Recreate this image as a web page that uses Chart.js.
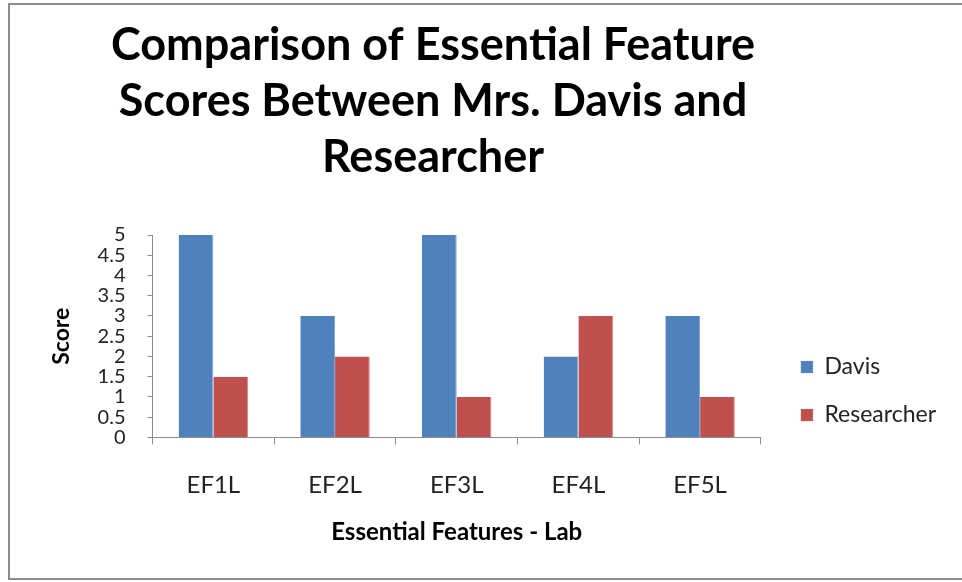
<!DOCTYPE html>
<html lang="en">
<head>
    <meta charset="UTF-8">
    <title>Essential Feature Scores</title>
    <script src="https://cdn.jsdelivr.net/npm/chart.js"></script>
    <style>
        body {
            margin: 0;
            padding: 0;
            background: #ffffff;
        }
        .wrap {
            position: relative;
            width: 962px;
            height: 582px;
            overflow: hidden;
        }
        .frame {
            position: absolute;
            left: 8px;
            top: 3px;
            width: 980px;
            height: 573px;
            border: 2px solid #8c8c8c;
            pointer-events: none;
        }
        canvas {
            position: absolute;
            left: 0;
            top: 0;
        }
    </style>
</head>
<body>
    <div class="wrap">
        <canvas id="myChart" width="962" height="582"></canvas>
        <div class="frame"></div>
    </div>

    <script>
        // data
        const categories = ['EF1L', 'EF2L', 'EF3L', 'EF4L', 'EF5L'];
        const davisScores = [5, 3, 5, 2, 3];
        const researcherScores = [1.5, 2, 1, 3, 1];
        const titleLines = ['Comparison of Essential Feature', 'Scores Between Mrs. Davis and', 'Researcher'];
        const xTitle = 'Essential Features - Lab';
        const yTitle = 'Score';

        const FONT = 'Lato, "Open Sans", sans-serif';

        // title is drawn by hand, it sits left of the canvas centre in the original
        const titlePlugin = {
            id: 'bigTitle',
            afterDraw(chart) {
                const c = chart.ctx;
                c.save();
                c.fillStyle = '#000';
                c.font = 'bold 45px ' + FONT;
                c.textAlign = 'center';
                c.textBaseline = 'middle';
                titleLines.forEach(function (line, i) {
                    c.fillText(line, 433, 45 + i * 56);
                });
                c.restore();
            }
        };

        const bgPlugin = {
            id: 'bg',
            beforeDraw(chart) {
                const c = chart.ctx;
                c.save();
                c.fillStyle = '#fff';
                c.fillRect(0, 0, chart.width, chart.height);
                c.restore();
            }
        };

        const ctx = document.getElementById('myChart').getContext('2d');
        let myChart = new Chart(ctx, {
            type: 'bar',
            data: {
                labels: categories,
                datasets: [{
                    label: 'Davis',
                    data: davisScores,
                    backgroundColor: '#4f81bd',
                    borderColor: '#7fa3d3',
                    borderWidth: { right: 1 },
                    categoryPercentage: 0.571,
                    barPercentage: 1
                }, {
                    label: 'Researcher',
                    data: researcherScores,
                    backgroundColor: '#c0504d',
                    borderColor: '#d98886',
                    borderWidth: { right: 1 },
                    categoryPercentage: 0.571,
                    barPercentage: 1
                }]
            },
            options: {
                responsive: false,
                animation: false,
                devicePixelRatio: 1,
                layout: {
                    padding: { left: 48, top: 235, right: 16, bottom: 35 }
                },
                plugins: {
                    title: { display: false },
                    tooltip: { enabled: false },
                    legend: {
                        position: 'right',
                        align: 'center',
                        maxWidth: 220,
                        labels: {
                            boxWidth: 12,
                            boxHeight: 12,
                            padding: 25,
                            color: '#222',
                            font: { family: FONT, size: 23 }
                        }
                    }
                },
                scales: {
                    x: {
                        grid: {
                            display: true,
                            offset: true,
                            drawOnChartArea: false,
                            drawTicks: true,
                            tickLength: 7,
                            color: '#8c8c8c'
                        },
                        border: { color: '#8c8c8c', width: 1 },
                        ticks: {
                            color: '#222',
                            padding: 26,
                            font: { family: FONT, size: 24 }
                        },
                        title: {
                            display: true,
                            text: xTitle,
                            color: '#000',
                            // tick padding is counted twice in the axis height, so pull the title back up
                            padding: { top: -7, bottom: 0 },
                            font: { family: FONT, size: 24, weight: 'bold' }
                        }
                    },
                    y: {
                        min: 0,
                        max: 5,
                        grid: {
                            display: true,
                            drawOnChartArea: false,
                            drawTicks: true,
                            tickLength: 5,
                            color: '#8c8c8c'
                        },
                        border: { color: '#8c8c8c', width: 1 },
                        ticks: {
                            stepSize: 0.5,
                            autoSkip: false,
                            color: '#222',
                            padding: 22,
                            font: { family: FONT, size: 20 },
                            callback: function (v) { return String(v); }
                        },
                        title: {
                            display: true,
                            text: yTitle,
                            color: '#000',
                            padding: { top: 0, bottom: 0 },
                            font: { family: FONT, size: 23, weight: 'bold' }
                        }
                    },
                    // empty spacer on the right so the legend sits a bit away from the plot
                    gap: {
                        position: 'right',
                        display: true,
                        grid: { display: false },
                        border: { display: false },
                        ticks: { display: false },
                        afterFit: function (s) { s.width = 15; }
                    }
                }
            },
            plugins: [bgPlugin, titlePlugin]
        });
    </script>
</body>
</html>
